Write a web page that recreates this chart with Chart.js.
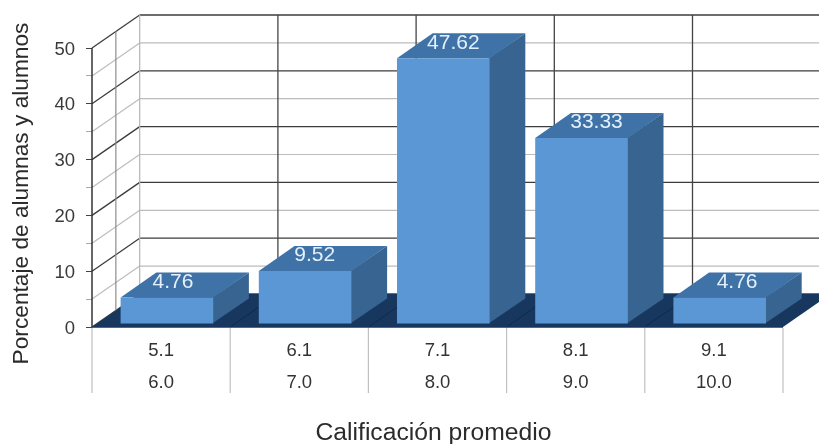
<!DOCTYPE html>
<html>
<head>
<meta charset="utf-8">
<script src="https://cdn.jsdelivr.net/npm/chart.js@4"></script>
<style>
  html, body { margin: 0; padding: 0; background: #fff; }
  canvas { display: block; }
</style>
</head>
<body>
<canvas id="gradeChart" width="819" height="444"></canvas>
<script>
const rangeFrom = ['5.1', '6.1', '7.1', '8.1', '9.1'];
const rangeTo = ['6.0', '7.0', '8.0', '9.0', '10.0'];
const percentages = [4.76, 9.52, 47.62, 33.33, 4.76];
const yTitle = 'Porcentaje de alumnas y alumnos';
const xTitle = 'Calificación promedio';

const FONT = '"Liberation Sans", Arial, sans-serif';
const WALL_DX = 47.7, WALL_DY = 33;   // depth of the chart box
const BAR_DX = 35.7, BAR_DY = 25;     // depth of one bar
const BAR_SHIFT_X = 5.8, BAR_SHIFT_Y = -3;
const LABEL_SHIFT = [6, 9.6, 10, 15, 17.4];

function poly(ctx, pts, fill) {
  ctx.beginPath();
  pts.forEach((p, i) => (i ? ctx.lineTo(p[0], p[1]) : ctx.moveTo(p[0], p[1])));
  ctx.closePath();
  ctx.fillStyle = fill;
  ctx.fill();
}

function line(ctx, x1, y1, x2, y2, color, width) {
  ctx.beginPath();
  ctx.moveTo(x1, y1);
  ctx.lineTo(x2, y2);
  ctx.strokeStyle = color;
  ctx.lineWidth = width;
  ctx.stroke();
}

const box3d = {
  id: 'box3d',
  beforeDatasetsDraw(chart) {
    const { ctx, chartArea: a, scales: { x, y } } = chart;
    const bx = a.left + WALL_DX;
    const step = x.getPixelForValue(1) - x.getPixelForValue(0);

    ctx.save();
    // horizontal lines on back wall and side wall
    for (let v = 0; v <= 50; v += 5) {
      const py = y.getPixelForValue(v);
      const major = v % 10 === 0;
      const color = major ? '#3c3c3c' : '#bcbcbc';
      line(ctx, a.left, py, bx, py - WALL_DY, color, major ? 1.3 : 1.2);
      line(ctx, bx, py - WALL_DY, chart.width, py - WALL_DY, color, major ? 1.3 : 1.2);
    }
    // vertical lines
    line(ctx, bx, a.top - WALL_DY, bx, a.bottom - WALL_DY, '#b4b4b4', 1.2);
    line(ctx, a.left + WALL_DX / 2, a.top - WALL_DY / 2, a.left + WALL_DX / 2, a.bottom - WALL_DY / 2, '#8c8c8c', 1.2);
    for (let i = 1; i <= rangeFrom.length - 1; i++) {
      const px = a.left + step * i + WALL_DX;
      line(ctx, px, a.top - WALL_DY, px, a.bottom - WALL_DY, '#444', 1.3);
    }
    // floor
    poly(ctx, [[a.left, a.bottom], [a.right, a.bottom], [a.right + WALL_DX, a.bottom - WALL_DY], [bx, a.bottom - WALL_DY]], '#17375e');
    for (let i = 1; i <= rangeFrom.length - 1; i++) {
      const px = a.left + step * i;
      line(ctx, px, a.bottom, px + WALL_DX, a.bottom - WALL_DY, '#0f2a4a', 1);
    }
    line(ctx, a.left, a.top, a.left, a.bottom, '#333', 1.5);
    line(ctx, a.left, a.bottom, a.right, a.bottom, '#17375e', 1.5);
    ctx.restore();
  },
  beforeDatasetDraw(chart, args) {
    const { ctx } = chart;
    ctx.save();
    ctx.translate(BAR_SHIFT_X, BAR_SHIFT_Y);
    args.meta.data.forEach(bar => {
      const l = bar.x - bar.width / 2, r = bar.x + bar.width / 2;
      // side starts a pixel inside the front face so no seam shows
      poly(ctx, [[r - 1, bar.base], [r + BAR_DX, bar.base - BAR_DY], [r + BAR_DX, bar.y - BAR_DY], [r - 1, bar.y]], '#376491');
      poly(ctx, [[l, bar.y], [r, bar.y], [r + BAR_DX, bar.y - BAR_DY], [l + BAR_DX, bar.y - BAR_DY]], '#3f73a8');
    });
  },
  afterDatasetDraw(chart) {
    chart.ctx.restore();
  },
  afterDatasetsDraw(chart, args) {
    const { ctx, chartArea: a, scales: { x } } = chart;
    const meta = chart.getDatasetMeta(0);
    const step = x.getPixelForValue(1) - x.getPixelForValue(0);

    ctx.save();
    // value labels on the bar tops
    ctx.font = '21px ' + FONT;
    ctx.fillStyle = '#e4f0fb';
    ctx.textAlign = 'center';
    ctx.textBaseline = 'middle';
    meta.data.forEach((bar, i) => {
      ctx.fillText(percentages[i].toFixed(2), bar.x + BAR_SHIFT_X + LABEL_SHIFT[i], bar.y + BAR_SHIFT_Y - 15.5);
    });
    // separators under the axis
    for (let i = 0; i <= rangeFrom.length; i++) {
      const px = a.left + step * i;
      line(ctx, px, a.bottom + 1, px, 393, '#c0c0c0', 1.2);
    }
    // axis titles
    ctx.fillStyle = '#2b2b2b';
    ctx.font = '24.7px ' + FONT;
    ctx.fillText(xTitle, 433.5, 433);
    ctx.font = '22.7px ' + FONT;
    ctx.translate(22, 193.5);
    ctx.rotate(-Math.PI / 2);
    ctx.fillText(yTitle, 0, 0);
    ctx.restore();
  }
};

new Chart(document.getElementById('gradeChart').getContext('2d'), {
  type: 'bar',
  data: {
    labels: rangeFrom.map((from, i) => [from, rangeTo[i]]),
    datasets: [{
      data: percentages,
      backgroundColor: '#5b97d5',
      borderWidth: 0,
      categoryPercentage: 1,
      barPercentage: 0.67,
      clip: false
    }]
  },
  options: {
    responsive: false,
    animation: false,
    layout: { padding: { top: 48, right: 36 } },
    plugins: { legend: { display: false }, tooltip: { enabled: false } },
    scales: {
      x: {
        offset: true,
        afterFit(scale) { scale.height = 117; },
        grid: { display: false },
        border: { display: false },
        ticks: {
          autoSkip: false,
          maxRotation: 0,
          padding: 0,
          color: '#333',
          font: { family: FONT, size: 18.5, lineHeight: 1.73 }
        }
      },
      y: {
        min: 0,
        max: 50,
        afterFit(scale) { scale.width = 92; },
        grid: {
          drawOnChartArea: false,
          tickLength: 6,
          tickColor: c => (c.tick.value % 10 === 0 ? '#444' : '#aaa')
        },
        border: { display: false },
        ticks: {
          stepSize: 5,
          autoSkip: false,
          padding: 11,
          labelOffset: 1.5,
          color: '#3a3a3a',
          font: { family: FONT, size: 18.5 },
          callback: v => (v % 10 === 0 ? v : '')
        }
      }
    }
  },
  plugins: [box3d]
});
</script>
</body>
</html>
